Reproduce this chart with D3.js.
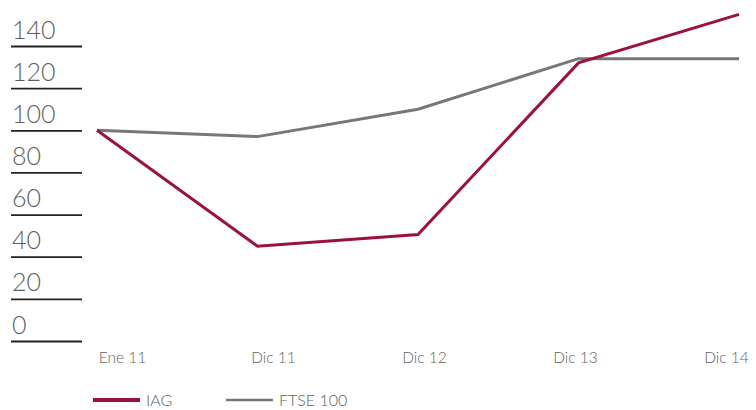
<!DOCTYPE html>
<html>
<head>
<meta charset="utf-8">
<script src="https://cdn.jsdelivr.net/npm/d3@7"></script>
<style>
  body { margin: 0; background: #fff; }
  text { font-family: Lato, "Open Sans", sans-serif; font-weight: 300; fill: #666; }
</style>
</head>
<body>
<svg width="756" height="410"></svg>
<script>
var periods = ["Ene 11", "Dic 11", "Dic 12", "Dic 13", "Dic 14"];
var iag = [100, 45, 50.5, 132, 155];
var ftse = [100, 97, 110, 134, 134];
var yTicks = [0, 20, 40, 60, 80, 100, 120, 140];

var svg = d3.select("svg");

var x = d3.scalePoint().domain(periods).range([97, 739]);
var xLabel = d3.scalePoint().domain(periods).range([122, 726]);
var y = d3.scaleLinear().domain([0, 140]).range([341, 46]);

// y axis: labels sitting on short rules
var yAxis = svg.append("g")
    .attr("transform", "translate(11,0)")
    .call(d3.axisRight(y).tickValues(yTicks).tickSize(71));
yAxis.select(".domain").remove();
yAxis.selectAll(".tick line").attr("stroke", "#222").attr("stroke-width", 1.8);
yAxis.selectAll(".tick text")
    .attr("x", 1).attr("dy", -8)
    .attr("text-anchor", "start")
    .style("font-size", "25px").style("fill", "#5e5e5e");

var xAxis = svg.append("g")
    .attr("transform", "translate(0,363)")
    .call(d3.axisBottom(xLabel).tickSize(0));
xAxis.select(".domain").remove();
xAxis.selectAll(".tick text")
    .attr("y", 0).attr("dy", 0)
    .style("font-size", "15.5px").style("fill", "#5e5e5e");

var line = d3.line()
    .x(function(d, i){ return x(periods[i]); })
    .y(function(d){ return y(d); });

svg.append("path").datum(ftse)
    .attr("d", line).attr("fill", "none")
    .attr("stroke", "#777").attr("stroke-width", 3);
svg.append("path").datum(iag)
    .attr("d", line).attr("fill", "none")
    .attr("stroke", "#9b1045").attr("stroke-width", 3);

// legend
var legend = [
  {name: "IAG", color: "#9b1045", w: 4, x: 93},
  {name: "FTSE 100", color: "#777", w: 2.5, x: 226}
];
var lg = svg.selectAll(".legend").data(legend).enter().append("g")
    .attr("class", "legend")
    .attr("transform", function(d){ return "translate(" + d.x + ",400)"; });
lg.append("line").attr("x1", 0).attr("x2", 47)
    .attr("stroke", function(d){ return d.color; })
    .attr("stroke-width", function(d){ return d.w; });
lg.append("text").attr("x", 53).attr("y", 6)
    .style("font-size", "16px").style("fill", "#5e5e5e")
    .text(function(d){ return d.name; });
</script>
</body>
</html>
